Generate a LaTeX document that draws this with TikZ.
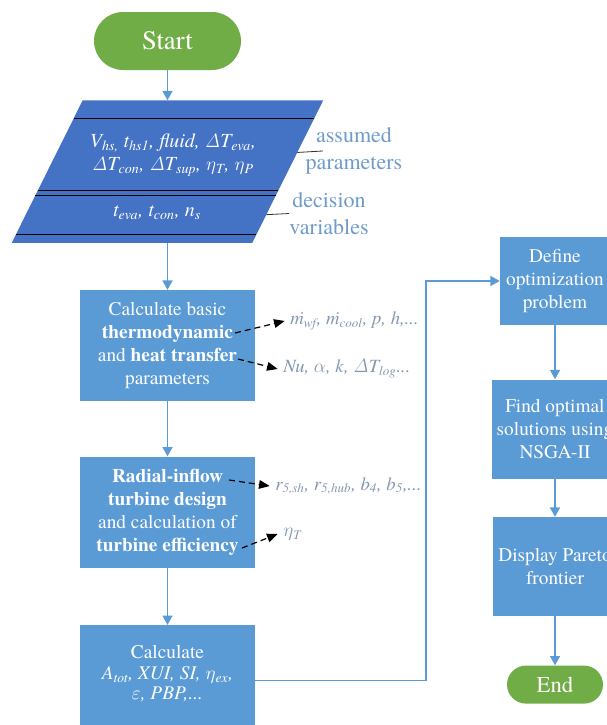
\documentclass[tikz,border=0pt]{standalone}
\usepackage[no-math]{fontspec}
\IfFontExistsTF{texgyretermes-regular.otf}{%
  \setmainfont{texgyretermes}[Extension=.otf, UprightFont=*-regular, BoldFont=*-bold, ItalicFont=*-italic, BoldItalicFont=*-bolditalic]}{%
  \setmainfont{Liberation Serif}}
\usetikzlibrary{positioning}
\usetikzlibrary{arrows.meta,calc}
\definecolor{termgreen}{HTML}{70AD47}
\definecolor{paradark}{HTML}{4472C4}
\definecolor{boxblue}{HTML}{5B9BD5}
\definecolor{notegray}{HTML}{8497B0}
\definecolor{sideblue}{HTML}{6F9BCB}
\newcommand\gD{$\mathit{\Delta}$}

\begin{document}
\begin{tikzpicture}[x=0.75pt, y=0.75pt,
term/.style={rectangle, fill=termgreen, text=white},
paral/.style={rectangle, inner sep=0pt, minimum width=180pt, minimum height=106.5pt},
paratext/.style={text=white, align=center, font=\fontsize{15}{15}\selectfont\itshape},
side/.style={text=sideblue, align=center, inner sep=0pt, font=\fontsize{16.5}{20}\selectfont},
box/.style={rectangle, fill=boxblue, text=white, align=center, minimum width=131.25pt, minimum height=83.25pt, font=\fontsize{14.5}{17.25}\selectfont},
note/.style={text=notegray, anchor=west, inner sep=4pt, font=\fontsize{14}{16}\selectfont\itshape},
link/.style={draw=boxblue, line width=1.1pt, -{Triangle[width=7.5pt,length=7pt]}},
hint/.style={black, line width=0.9pt, dash pattern=on 4.5pt off 3pt, -{Triangle[width=6.5pt,length=8pt]}},
]
\useasboundingbox (0,0) rectangle (607,-725);

\node[term, rounded corners=21.75pt, minimum width=110.25pt, minimum height=43.5pt, font=\fontsize{20}{24}\selectfont] (start) at (167.5,-41) {Start};

% input parallelogram
\node[paral] (para) [below=22.5pt of start] {};
\coordinate (ptl) at ([xshift=26.6pt]para.north west);
\coordinate (ptr) at ([xshift=26.6pt]para.north east);
\coordinate (pbr) at ([xshift=-26.6pt]para.south east);
\coordinate (pbl) at ([xshift=-26.6pt]para.south west);
\fill[paradark] (ptl) -- (ptr) -- (pbr) -- (pbl) -- cycle;
\foreach \f in {18,90,95,134}
  \draw[black, line width=0.6pt] ($(ptl)!\f/142!(pbl)$) -- ($(ptr)!\f/142!(pbr)$);
\node[paratext] (given) at (173,-155) {V\textsubscript{hs,} t\textsubscript{hs1}, fluid, \gD T\textsubscript{eva},\\[2pt]\gD T\textsubscript{con}, \gD T\textsubscript{sup}, $\eta$\textsubscript{T}, $\eta$\textsubscript{P}};
\node[paratext] (decvars) at (157,-213) {t\textsubscript{eva}, t\textsubscript{con}, n\textsubscript{s}};

\node[side] (assumed) at (354,-151) {assumed\\parameters};
\node[side] (decision) at (329,-213.5) {decision\\variables};
\draw[black!80, line width=0.6pt] ($(ptr)!52/142!(pbr)$) -- ([xshift=13pt]assumed.west);
\draw[black!80, line width=0.6pt] ($(ptr)!114/142!(pbr)$) -- (decision.west);

\node[box] (basic) [below=35.25pt of para] {Calculate basic\\\textbf{thermodynamic}\\and \textbf{heat transfer}\\parameters};
\node[box] (turbine) [below=41.25pt of basic] {\textbf{Radial-inflow}\\\textbf{turbine design}\\and calculation of\\\textbf{turbine efficiency}};
\node[box, font=\fontsize{14.5}{15}\selectfont] (calc) [below=42.75pt of turbine] {Calculate\\[1pt]{\itshape A\textsubscript{tot}, XUI, SI, $\eta$\textsubscript{ex},}\\{\itshape $\varepsilon$, PBP,...}\\[-2.2pt]\mbox{}};

% outputs of the two calculation steps
\coordinate (t1) at (235,-333);
\coordinate (t2) at (238,-359);
\coordinate (t3) at (229,-480);
\coordinate (t4) at (242,-548);
\node[note] (flows) at (284.7,-321) {\.{m}\textsubscript{wf}, \.{m}\textsubscript{cool}, p, h,...};
\node[note] (heat) at (277.7,-369) {Nu, $\alpha$, k, \gD T\textsubscript{log}...};
\node[note] (geom) at (269.7,-486) {r\textsubscript{5,sh}, r\textsubscript{5,hub}, b\textsubscript{4}, b\textsubscript{5},...};
\node[note] (eff) at (277.7,-534) {$\eta$\textsubscript{T}};
\draw[hint] (t1) -- (flows.west);
\draw[hint] (t2) -- (heat.west);
\draw[hint] (t3) -- (geom.west);
\draw[hint] (t4) -- (eff.west);

% optimization column
\node[box, minimum width=82.5pt, minimum height=66pt] (define) at (555,-281) {Define\\optimization\\problem};
\node[box, minimum width=93pt, minimum height=74.25pt] (find) [below=40.5pt of define] {Find optimal\\solutions using\\NSGA-II};
\node[box, minimum width=93pt, minimum height=74.25pt] (pareto) [below=28.5pt of find] {Display Pareto\\frontier};
\node[term, rounded corners=14.25pt, minimum width=72pt, minimum height=28.5pt, font=\fontsize{17}{20}\selectfont] (end) [below=36.75pt of pareto] {End};

\coordinate (bend) at (426,-281);

\draw[link] (start.south) -- (para.north);
\draw[link] (para.south) -- (basic.north);
\draw[link] (basic.south) -- (turbine.north);
\draw[link] (turbine.south) -- (calc.north);
\draw[link] (calc.east) -| (bend) -- (define.west);
\draw[link] (define.south) -- (find.north);
\draw[link] (find.south) -- (pareto.north);
\draw[link] (pareto.south) -- (end.north);
\end{tikzpicture}
\end{document}
